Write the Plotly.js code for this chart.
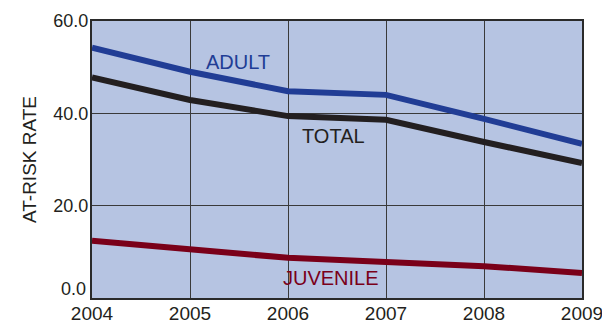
<!DOCTYPE html>
<html><head><meta charset="utf-8">
<script src="https://cdn.plot.ly/plotly-3.0.1.min.js"></script>
<style>body{margin:0;padding:0;background:#fff}#chart{width:602px;height:323px}</style>
</head><body><div id="chart"></div>
<script>
var years = [2004, 2005, 2006, 2007, 2008, 2009];
var adult = [54.2, 49.0, 44.8, 44.0, 38.8, 33.4];
var total = [47.8, 42.9, 39.4, 38.6, 33.8, 29.2];
var juvenile = [12.4, 10.4, 8.7, 7.8, 6.9, 5.4];
var seriesNames = ["ADULT", "TOTAL", "JUVENILE"];
var yTickVals = [0, 20, 40, 60];
var yTickText = ["0.0", "20.0", "40.0", "60.0"];

var colors = ["#213d95", "#231f20", "#7a0019"];
var data = [adult, total, juvenile].map(function(v, i){
  return {x: years, y: v, type: "scatter", mode: "lines", name: seriesNames[i],
          line: {color: colors[i], width: 6}, hoverinfo: "skip"};
});
var font = "Liberation Sans, Arial, sans-serif";
// the bottom tick label sits raised above the axis in the original
var mainTickText = yTickText.map(function(t, i){ return yTickVals[i] === 0 ? "" : t; });
var layout = {
  width: 602, height: 323,
  margin: {l: 92, r: 20, t: 21, b: 25},
  paper_bgcolor: "#ffffff", plot_bgcolor: "#b6c4e2",
  showlegend: false,
  font: {family: font, size: 18, color: "#231f20"},
  xaxis: {range: [2004, 2009], tickvals: years, ticktext: years.map(String),
          showgrid: true, gridcolor: "#3a3a3a", gridwidth: 1,
          showline: true, linecolor: "#2a2a2a", linewidth: 2, mirror: true,
          ticks: "", ticklabelstandoff: -3, ticklabeloverflow: "allow", zeroline: false,
          tickfont: {family: font, size: 19, color: "#231f20"}},
  yaxis: {range: [0, 60], tickvals: yTickVals, ticktext: mainTickText,
          showgrid: true, gridcolor: "#3a3a3a", gridwidth: 1,
          showline: true, linecolor: "#2a2a2a", linewidth: 2, mirror: true,
          ticks: "", ticklabelstandoff: -2, ticklabeloverflow: "allow", zeroline: false,
          tickfont: {family: font, size: 18, color: "#231f20"},
          title: {text: "AT-RISK RATE", standoff: 12, font: {family: font, size: 19, color: "#231f20"}}},
  annotations: [
    {x: 2005.49, y: 51.1, xref: "x", yref: "y", text: seriesNames[0], showarrow: false,
     font: {family: font, size: 20, color: colors[0]}},
    {x: 2006.46, y: 35.1, xref: "x", yref: "y", text: seriesNames[1], showarrow: false,
     font: {family: font, size: 20, color: colors[1]}},
    {x: 2006.44, y: 4.3, xref: "x", yref: "y", text: seriesNames[2], showarrow: false,
     font: {family: font, size: 20, color: colors[2]}},
    {x: 0, xref: "paper", xanchor: "right", xshift: -4, y: yTickVals[0], yref: "y",
     yanchor: "middle", yshift: 9, text: yTickText[0], showarrow: false,
     font: {family: font, size: 18, color: "#231f20"}}
  ]
};
Plotly.newPlot("chart", data, layout, {displayModeBar: false, staticPlot: true});
</script></body></html>
